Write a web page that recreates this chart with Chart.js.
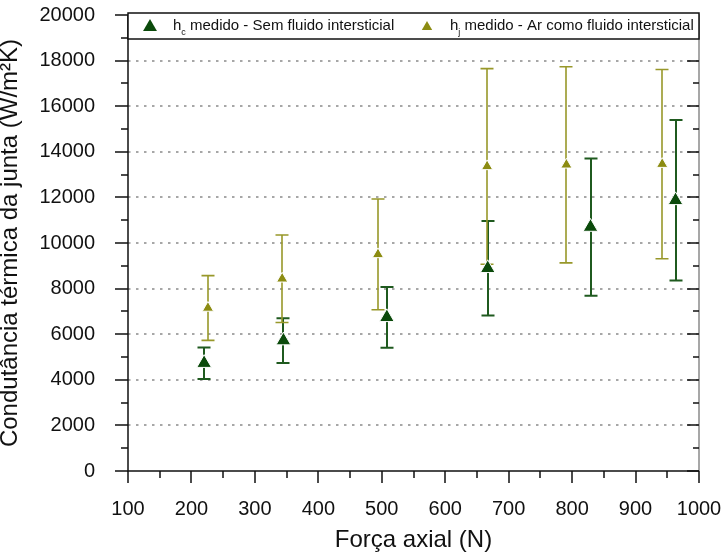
<!DOCTYPE html>
<html>
<head>
<meta charset="utf-8">
<script src="https://cdn.jsdelivr.net/npm/chart.js@4.4.1/dist/chart.umd.min.js"></script>
<style>
  html, body { margin: 0; padding: 0; background: #fff; }
  #wrap { width: 724px; height: 552px; }
</style>
</head>
<body>
<div id="wrap"><canvas id="chart"></canvas></div>
<script>
// hc: sem fluido intersticial
const forceHc = [220, 345, 508, 667, 829, 963];
const hcValues = [4730, 5720, 6740, 8890, 10700, 11870];
const hcErrors = [690, 980, 1330, 2070, 3010, 3520];
// hj: ar como fluido intersticial
const forceHj = [226, 343, 494, 666, 791, 942];
const hjValues = [7150, 8430, 9500, 13360, 13430, 13460];
const hjErrors = [1420, 1920, 2430, 4290, 4300, 4150];

const xTicks = [100, 200, 300, 400, 500, 600, 700, 800, 900, 1000];
const yTicks = [0, 2000, 4000, 6000, 8000, 10000, 12000, 14000, 16000, 18000, 20000];

const legendLabels = [
  ["h", "c", " medido - Sem fluido intersticial"],
  ["h", "j", " medido - Ar como fluido intersticial"],
];

const FONT = "'Liberation Sans', Arial, sans-serif";
const HC_COLOR = "#0b4a0b";
const HC_BAR = "#1f5a1f";
const HJ_COLOR = "#8c8c12";
const HJ_BAR = "#98982a";

const toPoints = (xs, ys) => xs.map((x, i) => ({ x, y: ys[i] }));
const midpoints = (arr) => arr.slice(1).map((v, i) => (v + arr[i]) / 2);

const triangle = (ctx, cx, cy, r) => {
  ctx.beginPath();
  ctx.moveTo(cx, cy - r);
  ctx.lineTo(cx + r * 0.866, cy + r * 0.5);
  ctx.lineTo(cx - r * 0.866, cy + r * 0.5);
  ctx.closePath();
  ctx.fill();
};

const frame = {
  id: "frame",
  beforeDatasetsDraw(chart) {
    const {
      ctx,
      chartArea: { left, right, top, bottom },
      scales: { x, y },
    } = chart;
    ctx.save();
    // dotted grid
    ctx.strokeStyle = "#8a8a8a";
    ctx.lineWidth = 1.5;
    ctx.setLineDash([2.5, 5.5]);
    yTicks.slice(1, -1).forEach((v) => {
      const py = Math.round(y.getPixelForValue(v));
      ctx.beginPath();
      ctx.moveTo(left, py);
      ctx.lineTo(right, py);
      ctx.stroke();
    });
    ctx.setLineDash([]);

    // top + right border
    ctx.strokeStyle = "#8a8a8a";
    ctx.beginPath();
    ctx.moveTo(left, top);
    ctx.lineTo(right, top);
    ctx.lineTo(right, bottom);
    ctx.stroke();

    ctx.strokeStyle = "#111";
    ctx.lineWidth = 1.5;
    ctx.beginPath();
    // y ticks: left outward, right inward
    yTicks.forEach((v) => {
      const py = Math.round(y.getPixelForValue(v));
      ctx.moveTo(left - 13, py);
      ctx.lineTo(left, py);
      ctx.moveTo(right - 12, py);
      ctx.lineTo(right, py);
    });
    midpoints(yTicks).forEach((v) => {
      const py = Math.round(y.getPixelForValue(v));
      ctx.moveTo(left - 7, py);
      ctx.lineTo(left, py);
      ctx.moveTo(right - 6, py);
      ctx.lineTo(right, py);
    });
    // x ticks outward
    xTicks.forEach((v) => {
      const px = Math.round(x.getPixelForValue(v));
      ctx.moveTo(px, bottom);
      ctx.lineTo(px, bottom + 12);
    });
    midpoints(xTicks).forEach((v) => {
      const px = Math.round(x.getPixelForValue(v));
      ctx.moveTo(px, bottom);
      ctx.lineTo(px, bottom + 7);
    });
    ctx.stroke();

    // left + bottom axis
    ctx.beginPath();
    ctx.moveTo(left, top);
    ctx.lineTo(left, bottom);
    ctx.lineTo(right, bottom);
    ctx.stroke();
    ctx.restore();
  },
};

const barSeries = [
  { xs: forceHc, ys: hcValues, errs: hcErrors, color: HC_BAR, width: 2 },
  { xs: forceHj, ys: hjValues, errs: hjErrors, color: HJ_BAR, width: 1.6 },
];

const errorBars = {
  id: "errorBars",
  beforeDatasetsDraw(chart) {
    const {
      ctx,
      scales: { x, y },
    } = chart;
    ctx.save();
    barSeries.forEach((s) => {
      ctx.strokeStyle = s.color;
      ctx.lineWidth = s.width;
      s.xs.forEach((fx, i) => {
        const px = Math.round(x.getPixelForValue(fx));
        const hi = y.getPixelForValue(s.ys[i] + s.errs[i]);
        const lo = y.getPixelForValue(s.ys[i] - s.errs[i]);
        ctx.beginPath();
        ctx.moveTo(px, hi);
        ctx.lineTo(px, lo);
        ctx.moveTo(px - 6.5, hi);
        ctx.lineTo(px + 6.5, hi);
        ctx.moveTo(px - 6.5, lo);
        ctx.lineTo(px + 6.5, lo);
        ctx.stroke();
      });
    });
    ctx.restore();
  },
};

const legendBox = {
  id: "legendBox",
  afterDraw(chart) {
    const {
      ctx,
      chartArea: { left, right },
    } = chart;
    const top = 13;
    const height = 26;
    const mid = top + height / 2;
    ctx.save();
    ctx.fillStyle = "#fff";
    ctx.fillRect(left, top, right - left, height);
    ctx.strokeStyle = "#111";
    ctx.lineWidth = 1.5;
    ctx.strokeRect(left, top, right - left, height);

    const items = [
      { label: legendLabels[0], color: HC_COLOR, r: 8, mx: 22, tx: 45 },
      { label: legendLabels[1], color: HJ_COLOR, r: 6, mx: 299, tx: 322 },
    ];
    ctx.textBaseline = "middle";
    items.forEach((it) => {
      ctx.fillStyle = it.color;
      triangle(ctx, left + it.mx, mid + 1, it.r);
      const [main, sub, rest] = it.label;
      ctx.fillStyle = "#111";
      ctx.font = `15px ${FONT}`;
      let tx = left + it.tx;
      ctx.fillText(main, tx, mid);
      tx += ctx.measureText(main).width;
      ctx.font = `9px ${FONT}`;
      ctx.fillText(sub, tx, mid + 7);
      tx += ctx.measureText(sub).width;
      ctx.font = `15px ${FONT}`;
      ctx.fillText(rest, tx, mid);
    });
    ctx.restore();
  },
};

new Chart(document.getElementById("chart"), {
  type: "scatter",
  data: {
    datasets: [
      {
        label: legendLabels[0].join(""),
        data: toPoints(forceHc, hcValues),
        pointStyle: "triangle",
        pointRadius: 8.5,
        pointHoverRadius: 8.5,
        backgroundColor: HC_COLOR,
        borderColor: "#fff",
        borderWidth: 1,
      },
      {
        label: legendLabels[1].join(""),
        data: toPoints(forceHj, hjValues),
        pointStyle: "triangle",
        pointRadius: 6.5,
        pointHoverRadius: 6.5,
        backgroundColor: HJ_COLOR,
        borderColor: "#fff",
        borderWidth: 1,
      },
    ],
  },
  options: {
    responsive: true,
    maintainAspectRatio: false,
    animation: false,
    layout: { padding: { top: 15, right: 25, left: 0, bottom: 0 } },
    plugins: {
      legend: { display: false },
      tooltip: { enabled: false },
    },
    scales: {
      x: {
        type: "linear",
        min: xTicks[0],
        max: xTicks[xTicks.length - 1],
        afterBuildTicks: (scale) => {
          scale.ticks = xTicks.map((value) => ({ value }));
        },
        afterFit: (scale) => {
          scale.height = 81;
          scale.paddingLeft = 0;
          scale.paddingRight = 0;
        },
        grid: { display: false },
        border: { display: false },
        ticks: {
          font: { size: 20, family: FONT },
          color: "#111",
          padding: 18,
          maxRotation: 0,
          autoSkip: false,
          callback: (v) => String(v),
        },
        title: {
          display: true,
          text: "Força axial (N)",
          font: { size: 24, family: FONT, lineHeight: 1 },
          color: "#111",
          padding: 0,
        },
      },
      y: {
        type: "linear",
        min: yTicks[0],
        max: yTicks[yTicks.length - 1],
        afterBuildTicks: (scale) => {
          scale.ticks = yTicks.map((value) => ({ value }));
        },
        afterFit: (scale) => {
          scale.width = 128;
          scale.paddingTop = 0;
          scale.paddingBottom = 0;
        },
        grid: { display: false },
        border: { display: false },
        ticks: {
          font: { size: 20, family: FONT },
          color: "#111",
          padding: 25,
          autoSkip: false,
          callback: (v) => String(v),
        },
        title: {
          display: true,
          text: "Condutância térmica da junta (W/m²K)",
          font: { size: 24, family: FONT, lineHeight: 0.85 },
          color: "#111",
          padding: 0,
        },
      },
    },
  },
  plugins: [frame, errorBars, legendBox],
});
</script>
</body>
</html>
